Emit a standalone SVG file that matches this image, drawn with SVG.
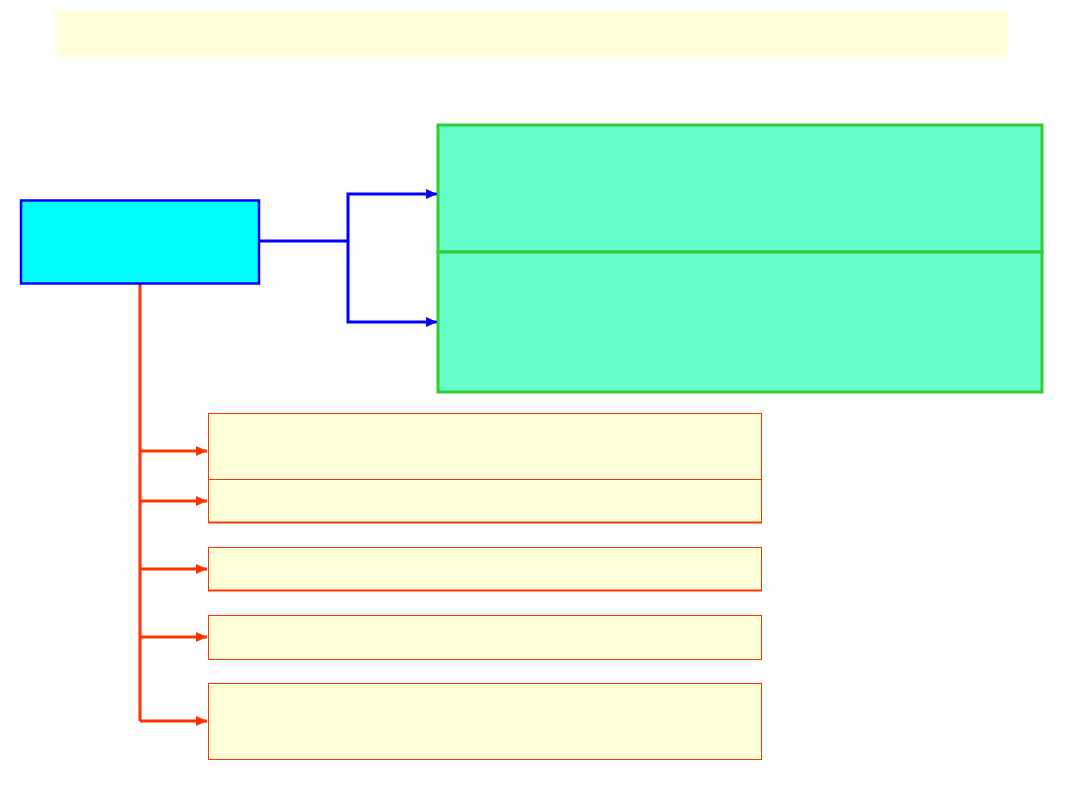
<svg xmlns="http://www.w3.org/2000/svg" width="1080" height="810" viewBox="0 0 1080 810">
<defs>
<style>
.yel{fill:#FFFFD9;stroke:#FF3300;stroke-width:1}
.grn{fill:#66FFCC;stroke:#33CC33;stroke-width:3}
.bl{fill:none;stroke:#0000FF;stroke-width:3}
.or{fill:none;stroke:#FF3300;stroke-width:3}
</style>
<marker id="ab" markerUnits="userSpaceOnUse" markerWidth="12" markerHeight="10" refX="11" refY="5" orient="auto"><path d="M0,0 L11,5 L0,10 Z" fill="#0000FF"/></marker>
<marker id="ao" markerUnits="userSpaceOnUse" markerWidth="12" markerHeight="10" refX="11" refY="5" orient="auto"><path d="M0,0 L11,5 L0,10 Z" fill="#FF3300"/></marker>
</defs>
<rect id="title" x="56" y="10" width="952" height="47" fill="#FFFFD9"/>
<g id="connectors">
<path class="bl" d="M259,241 H348" stroke-width="3.5"/>
<path class="bl" d="M348,241 V194 H437" marker-end="url(#ab)"/>
<path class="bl" d="M348,241 V322 H437" marker-end="url(#ab)"/>
<path class="or" d="M140,284 V721"/>
<path class="or" d="M140,451 H207" marker-end="url(#ao)"/>
<path class="or" d="M140,501 H207" marker-end="url(#ao)"/>
<path class="or" d="M140,569 H207" marker-end="url(#ao)"/>
<path class="or" d="M140,637 H207" marker-end="url(#ao)"/>
<path class="or" d="M140,721 H207" marker-end="url(#ao)"/>
</g>
<g id="root"><rect x="21" y="200.5" width="238" height="83" fill="#00FFFF" stroke="#0000FF" stroke-width="2.5"/></g>
<g id="g1"><rect class="grn" x="438" y="125" width="604" height="127"/></g>
<g id="g2"><rect class="grn" x="438" y="252" width="604" height="140"/></g>
<g id="o1"><rect class="yel" x="208.5" y="413.5" width="553" height="66"/></g>
<g id="o2"><rect class="yel" x="208.5" y="479.5" width="553" height="43"/><path d="M208,522.5 H762" stroke="#FF3300" stroke-width="2"/></g>
<g id="o3"><rect class="yel" x="208.5" y="547.5" width="553" height="43"/><path d="M208,590.5 H762" stroke="#FF3300" stroke-width="2"/></g>
<g id="o4"><rect class="yel" x="208.5" y="615.5" width="553" height="44"/></g>
<g id="o5"><rect class="yel" x="208.5" y="683.5" width="553" height="76"/></g>
</svg>
